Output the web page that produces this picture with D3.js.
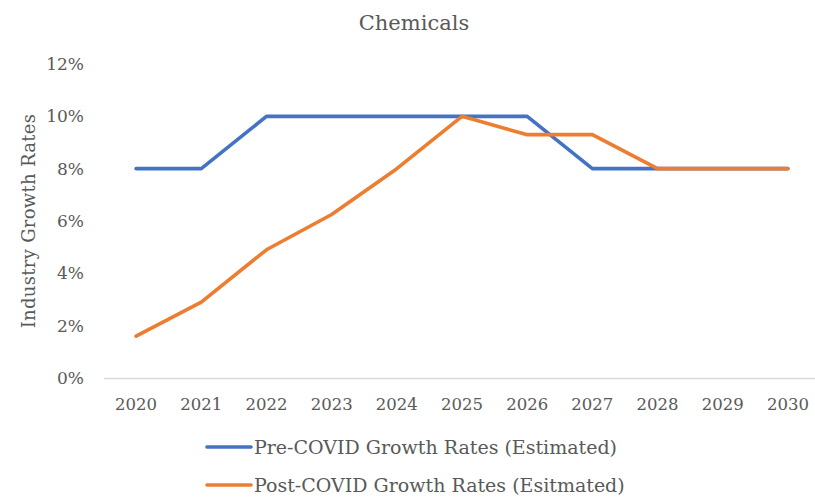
<!DOCTYPE html>
<html>
<head>
<meta charset="utf-8">
<script src="https://cdn.jsdelivr.net/npm/d3@7"></script>
<style>
  html, body { margin: 0; padding: 0; background: #fff; }
  svg { display: block; }
  text { font-family: "DejaVu Serif", "Liberation Serif", serif; fill: #595959; }
</style>
</head>
<body>
<svg id="chart" width="815" height="499"></svg>
<script>
// Chemicals industry growth rates, estimated before and after COVID
const years = ["2020","2021","2022","2023","2024","2025","2026","2027","2028","2029","2030"];
const preCovid  = [8, 8, 10, 10, 10, 10, 10, 8, 8, 8, 8];
const postCovid = [1.6, 2.9, 4.9, 6.25, 8, 10, 9.3, 9.3, 8, 8, 8];
const yTicks = [0, 2, 4, 6, 8, 10, 12];
const seriesNames = ["Pre-COVID Growth Rates (Estimated)", "Post-COVID Growth Rates (Esitmated)"];
const seriesColors = ["#4472C4", "#ED7D31"];

const svg = d3.select("#chart");
const margin = { left: 103.5, right: -5.5, top: 64, bottom: 121 };
const W = 815, H = 499;

const x = d3.scaleBand().domain(years).range([margin.left, W - margin.right]);
const y = d3.scaleLinear().domain([0, 12]).range([H - margin.bottom, margin.top]);
const cx = d => x(d) + x.bandwidth() / 2;

// Title
svg.append("text")
  .attr("x", 414).attr("y", 30)
  .attr("text-anchor", "middle")
  .style("font-size", "21px")
  .text("Chemicals");

// Y axis title
svg.append("text")
  .attr("transform", `translate(35,${(y(0) + y(12)) / 2}) rotate(-90)`)
  .attr("text-anchor", "middle")
  .style("font-size", "18px")
  .style("letter-spacing", "0.3px")
  .text("Industry Growth Rates");

// Y tick labels
const yAxis = d3.axisLeft(y).tickValues(yTicks).tickFormat(d => d + "%").tickSize(0).tickPadding(0);
const gy = svg.append("g").attr("transform", `translate(84,0)`).call(yAxis);
gy.select(".domain").remove();
gy.selectAll("text").style("font-size", "17px").style("font-family", "DejaVu Serif, serif").attr("fill", "#595959");

// X axis baseline and labels
const xAxis = d3.axisBottom(x).tickSize(0).tickPadding(20);
const gx = svg.append("g").attr("transform", `translate(0,${y(0)})`).call(xAxis);
gx.select(".domain").attr("stroke", "#D9D9D9").attr("stroke-width", 1.3);
gx.selectAll("text").style("font-size", "16.5px").style("font-family", "DejaVu Serif, serif").attr("fill", "#595959");

// Series lines
const line = d3.line().x((d, i) => cx(years[i])).y(d => y(d));
[preCovid, postCovid].forEach((vals, k) => {
  svg.append("path")
    .datum(vals)
    .attr("d", line)
    .attr("fill", "none")
    .attr("stroke", seriesColors[k])
    .attr("stroke-width", 3.6)
    .attr("stroke-linecap", "round")
    .attr("stroke-linejoin", "round");
});

// Legend
const legend = svg.append("g");
seriesNames.forEach((name, k) => {
  const ly = 447 + k * 38;
  legend.append("line")
    .attr("x1", 207).attr("x2", 251)
    .attr("y1", ly).attr("y2", ly)
    .attr("stroke", seriesColors[k])
    .attr("stroke-width", 3.6)
    .attr("stroke-linecap", "round");
  legend.append("text")
    .attr("x", 254).attr("y", ly + 7)
    .style("font-size", "19px")
    .text(name);
});
</script>
</body>
</html>
